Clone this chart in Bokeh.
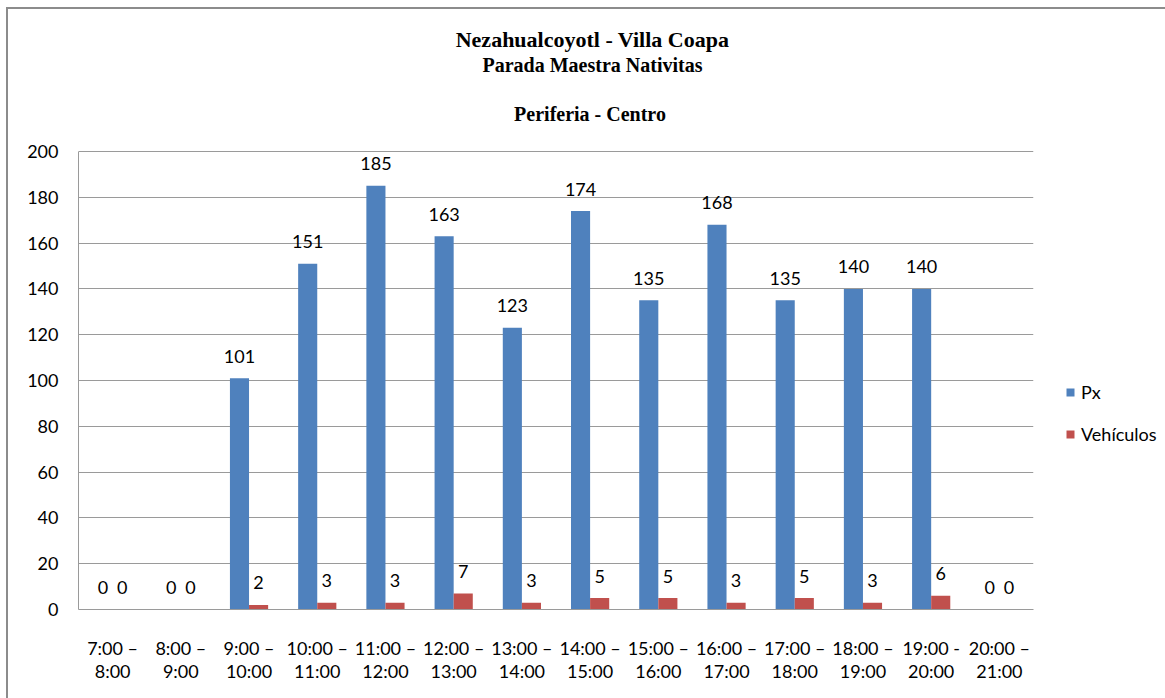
from bokeh.plotting import figure
from bokeh.models import ColumnDataSource, Label, Legend, LegendItem, FixedTicker
from bokeh.transform import dodge
from bokeh.core.properties import value
from bokeh.embed import file_html
from bokeh.resources import INLINE

categories = ["7:00 \u2013\n8:00", "8:00 \u2013\n9:00", "9:00 \u2013\n10:00", "10:00 \u2013\n11:00",
              "11:00 \u2013\n12:00", "12:00 \u2013\n13:00", "13:00 \u2013\n14:00", "14:00 \u2013\n15:00",
              "15:00 \u2013\n16:00", "16:00 \u2013\n17:00", "17:00 \u2013\n18:00", "18:00 \u2013\n19:00",
              "19:00 -\n20:00", "20:00 \u2013\n21:00"]
px = [0, 0, 101, 151, 185, 163, 123, 174, 135, 168, 135, 140, 140, 0]
vehiculos = [0, 0, 2, 3, 3, 7, 3, 5, 5, 3, 5, 3, 6, 0]
y_ticks = [0, 20, 40, 60, 80, 100, 120, 140, 160, 180, 200]
title_lines = ["Nezahualcoyotl - Villa Coapa", "Parada Maestra Nativitas", "Periferia -  Centro"]
series_names = ["Px", "Vehículos"]

BLUE = "#4F81BD"
RED = "#C0504D"
GRID = "#9A9A9A"
FONT = "Lato"
FS = "18px"

source = ColumnDataSource(dict(
    cat=categories, px=px, veh=vehiculos,
    px_txt=[str(v) for v in px], veh_txt=[str(v) for v in vehiculos],
))

# y range extends above 200 so the title area lies inside the frame
p = figure(x_range=categories, y_range=(0, 262),
           frame_width=955, frame_height=600,
           min_border_left=70, min_border_right=132, min_border_top=0, min_border_bottom=89,
           output_backend="svg", toolbar_location=None,
           background_fill_color="white", border_fill_color="white")
p.styles = {"margin-left": "6px", "margin-top": "7px",
            "border-left": "2px solid #8C8C8C", "border-top": "2px solid #8C8C8C"}

bw = 0.28
r1 = p.vbar(x=dodge("cat", -bw / 2, range=p.x_range), top="px", width=bw, source=source,
            fill_color=BLUE, line_color=None)
r2 = p.vbar(x=dodge("cat", bw / 2, range=p.x_range), top="veh", width=bw, source=source,
            fill_color=RED, line_color=None)

for col, txt, off in (("px", "px_txt", -bw / 2), ("veh", "veh_txt", bw / 2)):
    p.text(x=dodge("cat", off, range=p.x_range), y=col, text=txt, source=source,
           text_align="center", text_baseline="alphabetic", y_offset=-22,
           text_font=value(FONT), text_font_size=FS, text_color="black")

p.outline_line_color = None
p.xgrid.grid_line_color = None
p.ygrid.grid_line_color = GRID
p.yaxis.ticker = FixedTicker(ticks=y_ticks)
p.ygrid.ticker = FixedTicker(ticks=y_ticks)
p.yaxis.bounds = (0, 200)

for ax in (p.xaxis[0], p.yaxis[0]):
    ax.axis_line_color = GRID
    ax.major_tick_line_color = None
    ax.minor_tick_line_color = None
    ax.major_label_text_font = FONT
    ax.major_label_text_font_size = FS
    ax.major_label_text_color = "black"
p.yaxis.major_label_standoff = 14
p.xaxis.major_label_standoff = 21
p.xaxis.major_label_text_line_height = 1.05
p.x_range.range_padding = 0

# titles (screen units measured from the frame's bottom-left)
title_specs = [(570, "22px"), (545, "20px"), (496, "20px")]
for txt, (yy, fs) in zip(title_lines, title_specs):
    p.add_layout(Label(x=514, y=yy, x_units="screen", y_units="screen", text=txt,
                       text_align="center", text_baseline="alphabetic",
                       text_font="Liberation Serif", text_font_style="bold",
                       text_font_size=fs, text_color="black"))

legend = Legend(items=[LegendItem(label=series_names[0], renderers=[r1]),
                       LegendItem(label=series_names[1], renderers=[r2])],
                location=(32, 164), orientation="vertical",
                glyph_width=10, glyph_height=10, label_height=20, spacing=20,
                padding=0, margin=0, label_standoff=6,
                border_line_color=None, background_fill_alpha=0,
                label_text_font=FONT, label_text_font_size=FS, label_text_color="black")
p.add_layout(legend, "right")

open("out.html", "w").write(file_html(p, INLINE))
